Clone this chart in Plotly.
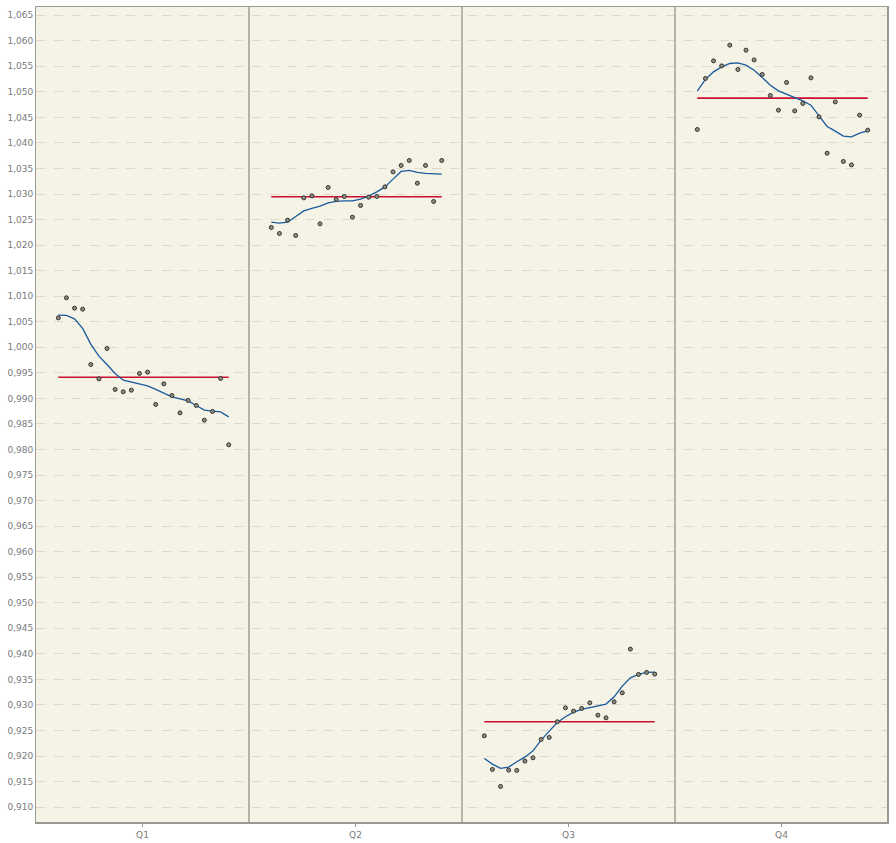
import numpy as np
import plotly.graph_objects as go

quarters = ["Q1", "Q2", "Q3", "Q4"]

q1_values = [1.00576, 1.00968, 1.00766, 1.00747, 0.99664, 0.99383, 0.99977, 0.99175,
             0.99129, 0.99161, 0.99488, 0.99514, 0.98882, 0.99285, 0.99057, 0.98717,
             0.98960, 0.98862, 0.98574, 0.98744, 0.99390, 0.98091]
q2_values = [1.02345, 1.02228, 1.02488, 1.02189, 1.02925, 1.02964, 1.02416, 1.03128,
             1.02893, 1.02952, 1.02547, 1.02776, 1.02938, 1.02952, 1.03140, 1.03434,
             1.03559, 1.03656, 1.03212, 1.03559, 1.02854, 1.03656]
q3_values = [0.92396, 0.91739, 0.91406, 0.91725, 0.91719, 0.91901, 0.91966, 0.92326,
             0.92365, 0.92671, 0.92944, 0.92880, 0.92932, 0.93042, 0.92801, 0.92749,
             0.93062, 0.93238, 0.94093, 0.93598, 0.93637, 0.93604]
q4_values = [1.04263, 1.05261, 1.05606, 1.05508, 1.05913, 1.05437, 1.05815, 1.05625,
             1.05340, 1.04929, 1.04641, 1.05183, 1.04627, 1.04772, 1.05273, 1.04510,
             1.03799, 1.04803, 1.03637, 1.03570, 1.04543, 1.04250]

q1_smooth = [1.00629, 1.00623, 1.00557, 1.00369, 1.00062, 0.99827, 0.99664, 0.99488,
             0.99357, 0.99318, 0.99292, 0.99246, 0.99175, 0.99109, 0.99030, 0.98991,
             0.98952, 0.98862, 0.98770, 0.98750, 0.98737, 0.98639]
q2_smooth = [1.02449, 1.02430, 1.02449, 1.02553, 1.02670, 1.02717, 1.02762, 1.02827,
             1.02854, 1.02866, 1.02866, 1.02899, 1.02958, 1.03042, 1.03140, 1.03291,
             1.03441, 1.03461, 1.03422, 1.03402, 1.03388, 1.03388]
q3_smooth = [0.91954, 0.91842, 0.91758, 0.91784, 0.91888, 0.91979, 0.92103, 0.92312,
             0.92488, 0.92658, 0.92769, 0.92860, 0.92913, 0.92952, 0.92977, 0.93017,
             0.93160, 0.93369, 0.93532, 0.93598, 0.93637, 0.93643]
q4_smooth = [1.05013, 1.05241, 1.05390, 1.05488, 1.05554, 1.05567, 1.05522, 1.05424,
             1.05280, 1.05130, 1.05019, 1.04954, 1.04882, 1.04823, 1.04739, 1.04523,
             1.04322, 1.04230, 1.04132, 1.04119, 1.04191, 1.04236]

all_values = [q1_values, q2_values, q3_values, q4_values]
all_smooth = [q1_smooth, q2_smooth, q3_smooth, q4_smooth]

PANEL = 26.25     # x-units per quarter panel
LEAD = 2.75       # offset of first point inside panel

BG = "#f5f2e6"
GRID = "#dcd9cb"
FRAME = "#9a9a94"
DIV = "#77776f"
RED = "#c8102e"
BLUE = "#1a5b9c"

fig = go.Figure()
for qi, (vals, sm) in enumerate(zip(all_values, all_smooth)):
    xs = [qi * PANEL + LEAD + j for j in range(len(vals))]
    m = float(np.mean(vals))
    fig.add_trace(go.Scatter(x=[xs[0], xs[-1]], y=[m, m], mode="lines",
                             line=dict(color=RED, width=1.6), hoverinfo="skip",
                             showlegend=False))
    fig.add_trace(go.Scatter(x=xs, y=sm, mode="lines",
                             line=dict(color=BLUE, width=1.3),
                             showlegend=False))
    fig.add_trace(go.Scatter(x=xs, y=vals, mode="markers",
                             marker=dict(size=4, color="#8e8e84",
                                         line=dict(color="#33332f", width=1)),
                             showlegend=False))

for qi in range(1, len(quarters)):
    fig.add_shape(type="line", xref="x", yref="paper", x0=qi * PANEL, x1=qi * PANEL,
                  y0=0, y1=1, line=dict(color=DIV, width=1))

# thicker right and bottom frame edges
fig.add_shape(type="line", xref="paper", yref="paper", x0=1, x1=1, y0=0, y1=1,
              line=dict(color=FRAME, width=2))
fig.add_shape(type="line", xref="paper", yref="paper", x0=0, x1=1, y0=0, y1=0,
              line=dict(color=FRAME, width=2))

fig.update_layout(
    width=896, height=843,
    margin=dict(l=36, r=8, t=7, b=20, autoexpand=False),
    paper_bgcolor="white",
    plot_bgcolor=BG,
    separators=",.",
    font=dict(family="DejaVu Sans, Verdana, sans-serif", size=9, color="#7a7a7a"),
    showlegend=False,
)
fig.update_xaxes(
    range=[0, PANEL * len(quarters)],
    tickvals=[qi * PANEL + PANEL / 2 for qi in range(len(quarters))],
    ticktext=quarters,
    ticks="outside", ticklen=3, tickcolor=FRAME,
    showgrid=False, zeroline=False, automargin=False,
    showline=True, linecolor=FRAME, linewidth=1, mirror=True,
)
fig.update_yaxes(
    range=[0.9069, 1.0666],
    dtick=0.005, tick0=0.9, tickformat=".3f",
    ticks="", showgrid=True, gridcolor=GRID, griddash="dash", gridwidth=1,
    zeroline=False, automargin=False,
    showline=True, linecolor=FRAME, linewidth=1, mirror=True,
)

fig.write_html("out.html")
